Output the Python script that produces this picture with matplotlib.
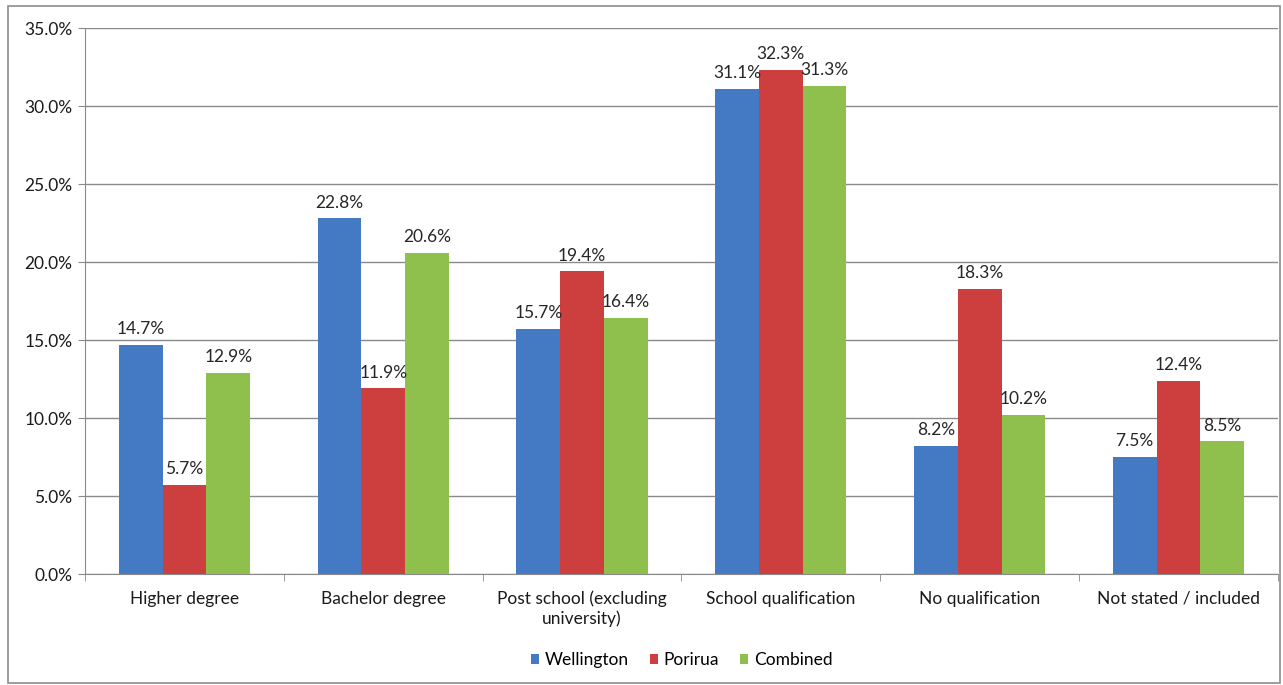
import numpy as np
import matplotlib.pyplot as plt
from matplotlib.patches import Rectangle

categories = ["Higher degree", "Bachelor degree", "Post school (excluding\nuniversity)",
              "School qualification", "No qualification", "Not stated / included"]
wellington = [14.7, 22.8, 15.7, 31.1, 8.2, 7.5]
porirua = [5.7, 11.9, 19.4, 32.3, 18.3, 12.4]
combined = [12.9, 20.6, 16.4, 31.3, 10.2, 8.5]
series_names = ["Wellington", "Porirua", "Combined"]
colors = ["#4479c4", "#cc3f3e", "#8fbf4d"]

plt.rcParams['font.family'] = ['Lato', 'DejaVu Sans']
fs = 12.5

fig = plt.figure(figsize=(12.83, 6.85), dpi=100)
ax = fig.add_axes([0.0663, 0.162, 0.9297, 0.797])

# outer chart border
fig.patches.append(Rectangle((0.006, 0.003), 0.992, 0.988, transform=fig.transFigure,
                             fill=False, edgecolor="#8c8c8c", linewidth=1.2))

x = np.arange(len(categories))
w = 0.22
for i, (vals, name) in enumerate(zip([wellington, porirua, combined], series_names)):
    bars = ax.bar(x + (i - 1) * w, vals, width=w, color=colors[i], label=name, zorder=3)
    for b, v in zip(bars, vals):
        ax.text(b.get_x() + b.get_width() / 2, v + 0.5, f"{v:.1f}%", ha="center", va="bottom",
                fontsize=fs, color="#262626", zorder=4)

ax.set_xlim(-0.5, len(categories) - 0.5)
ax.set_ylim(0, 35)
ax.set_yticks(np.arange(0, 35.1, 5))
ax.set_yticklabels([f"{t:.1f}%" for t in np.arange(0, 35.1, 5)])
ax.yaxis.grid(True, color="#8a8a8a", linewidth=1)
ax.set_axisbelow(True)

ax.set_xticks(x)
ax.set_xticklabels(categories)
ax.set_xticks(np.arange(-0.5, len(categories)), minor=True)
ax.tick_params(axis="x", which="major", length=0, pad=12, labelsize=fs, colors="#1a1a1a")
ax.tick_params(axis="x", which="minor", length=5, color="#8a8a8a")
ax.tick_params(axis="y", length=5, color="#8a8a8a", labelsize=fs, labelcolor="#1a1a1a", pad=4)

for s in ["top", "right"]:
    ax.spines[s].set_visible(False)
for s in ["left", "bottom"]:
    ax.spines[s].set_color("#8a8a8a")

ax.legend(loc="upper center", bbox_to_anchor=(0.5, -0.115), ncol=3, frameon=False,
          fontsize=fs, handlelength=0.5, handleheight=0.5, handletextpad=0.3,
          columnspacing=1.2)

fig.savefig("out.png", dpi=100)
